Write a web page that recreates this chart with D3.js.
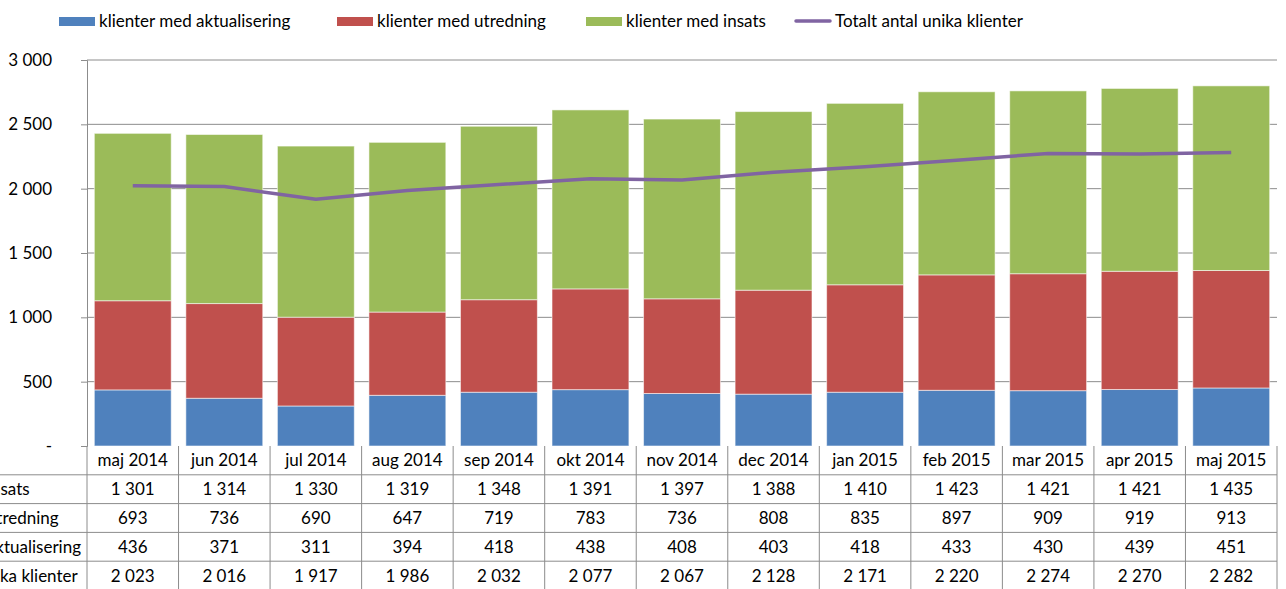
<!DOCTYPE html>
<html>
<head>
<meta charset="utf-8">
<script src="https://cdn.jsdelivr.net/npm/d3@7"></script>
<style>
  body { margin: 0; background: #fff; }
  svg text { font-family: Lato, "Open Sans", sans-serif; fill: #000; }
</style>
</head>
<body>
<div id="chart"></div>
<script>
const months = ['maj 2014', 'jun 2014', 'jul 2014', 'aug 2014', 'sep 2014', 'okt 2014', 'nov 2014',
  'dec 2014', 'jan 2015', 'feb 2015', 'mar 2015', 'apr 2015', 'maj 2015'];
const aktualisering = [436, 371, 311, 394, 418, 438, 408, 403, 418, 433, 430, 439, 451];
const utredning = [693, 736, 690, 647, 719, 783, 736, 808, 835, 897, 909, 919, 913];
const insats = [1301, 1314, 1330, 1319, 1348, 1391, 1397, 1388, 1410, 1423, 1421, 1421, 1435];
const totalt = [2023, 2016, 1917, 1986, 2032, 2077, 2067, 2128, 2171, 2220, 2274, 2270, 2282];
const yTicks = [0, 500, 1000, 1500, 2000, 2500, 3000];

const series = [
  { key: 'aktualisering', label: 'klienter med aktualisering', values: aktualisering, color: '#4F81BD' },
  { key: 'utredning', label: 'klienter med utredning', values: utredning, color: '#C0504D' },
  { key: 'insats', label: 'klienter med insats', values: insats, color: '#9BBB59' }
];
const lineLabel = 'Totalt antal unika klienter';
const lineColor = '#8064A2';

const width = 1286, height = 589;
const margin = { top: 60, right: 9, left: 87 };
const plotBottom = 446;
const rowH = 28.8;
const fs = 17;

const fmt = v => v === 0 ? '-' : d3.format(',')(v).replace(/,/g, ' ');

const svg = d3.select('#chart').append('svg')
  .attr('width', width)
  .attr('height', height);

const x = d3.scaleBand()
  .domain(months)
  .range([margin.left, width - margin.right])
  .paddingInner(0.16)
  .paddingOuter(0.08);

const xCol = d3.scaleBand()
  .domain(months)
  .range([margin.left, width - margin.right]);

const y = d3.scaleLinear()
  .domain([0, 3000])
  .range([plotBottom, margin.top]);

// gridlines
svg.append('g')
  .selectAll('line')
  .data(yTicks.slice(1))
  .join('line')
    .attr('x1', margin.left)
    .attr('x2', width - margin.right)
    .attr('y1', d => y(d))
    .attr('y2', d => y(d))
    .attr('stroke', '#8c8c8c')
    .attr('stroke-width', 1);

// y axis
const yAxis = svg.append('g')
  .attr('transform', `translate(${margin.left},0)`)
  .call(d3.axisLeft(y).tickValues(yTicks).tickSize(6).tickPadding(29).tickFormat(fmt));
yAxis.select('.domain').attr('stroke', '#8c8c8c');
yAxis.selectAll('.tick line').attr('stroke', '#8c8c8c');
yAxis.selectAll('.tick text').attr('font-size', fs).attr('font-family', 'Lato, "Open Sans", sans-serif');

// stacked bars
const stackData = months.map((m, i) => {
  const row = { month: m };
  series.forEach(s => { row[s.key] = s.values[i]; });
  return row;
});
const stacked = d3.stack().keys(series.map(s => s.key))(stackData);

svg.append('g')
  .selectAll('g')
  .data(stacked)
  .join('g')
    .attr('fill', (d, i) => series[i].color)
  .selectAll('rect')
  .data(d => d)
  .join('rect')
    .attr('x', d => x(d.data.month))
    .attr('width', x.bandwidth())
    .attr('y', d => y(d[1]))
    .attr('height', d => y(d[0]) - y(d[1]))
    .attr('stroke', 'rgba(255,255,255,0.55)')
    .attr('stroke-width', 1);

// total line
svg.append('path')
  .datum(totalt)
  .attr('fill', 'none')
  .attr('stroke', lineColor)
  .attr('stroke-width', 3.5)
  .attr('stroke-linejoin', 'round')
  .attr('d', d3.line()
    .x((d, i) => xCol(months[i]) + xCol.bandwidth() / 2)
    .y(d => y(d)));

// data table
const table = svg.append('g');
const rows = [
  { label: 'klienter med insats', values: insats },
  { label: 'klienter med utredning', values: utredning },
  { label: 'klienter med aktualisering', values: aktualisering },
  { label: lineLabel, values: totalt }
];
const tableBottom = plotBottom + rowH * (rows.length + 1);
const gridColor = '#8c8c8c';

// horizontal lines
table.selectAll('line.h')
  .data(d3.range(1, rows.length + 2))
  .join('line')
    .attr('class', 'h')
    .attr('x1', 0)
    .attr('x2', width - margin.right)
    .attr('y1', d => plotBottom + d * rowH)
    .attr('y2', d => plotBottom + d * rowH)
    .attr('stroke', gridColor);

// vertical lines
table.selectAll('line.v')
  .data(months.concat(['end']))
  .join('line')
    .attr('class', 'v')
    .attr('x1', d => d === 'end' ? width - margin.right : xCol(d))
    .attr('x2', d => d === 'end' ? width - margin.right : xCol(d))
    .attr('y1', plotBottom)
    .attr('y2', tableBottom)
    .attr('stroke', gridColor);

// header
table.selectAll('text.head')
  .data(months)
  .join('text')
    .attr('class', 'head')
    .attr('x', d => xCol(d) + xCol.bandwidth() / 2)
    .attr('y', plotBottom + rowH / 2)
    .attr('dy', '0.35em')
    .attr('text-anchor', 'middle')
    .attr('font-size', fs)
    .text(d => d);

rows.forEach((r, ri) => {
  const cy = plotBottom + rowH * (ri + 1) + rowH / 2;
  table.selectAll(null)
    .data(r.values)
    .join('text')
      .attr('x', (d, i) => xCol(months[i]) + xCol.bandwidth() / 2)
      .attr('y', cy)
      .attr('dy', '0.35em')
      .attr('text-anchor', 'middle')
      .attr('font-size', fs)
      .text(d => fmt(d));
});

// row labels, left aligned and cut off by the page edge as in the original
const labels = table.append('g').selectAll('text')
  .data(rows)
  .join('text')
    .attr('y', (d, i) => plotBottom + rowH * (i + 1) + rowH / 2)
    .attr('dy', '0.35em')
    .attr('font-size', fs)
    .text(d => d.label);
const longest = d3.max(labels.nodes(), n => n.getComputedTextLength());
labels.attr('x', 81 - longest);

// legend
const legendItems = series.map(s => ({ label: s.label, color: s.color, type: 'rect' }))
  .concat([{ label: lineLabel, color: lineColor, type: 'line' }]);
const legendX = [59, 337, 586, 795];
const legend = svg.append('g');
legendItems.forEach((d, i) => {
  const g = legend.append('g').attr('transform', `translate(${legendX[i]},21)`);
  if (d.type === 'rect') {
    g.append('rect').attr('x', 0).attr('y', -4).attr('width', 36).attr('height', 9).attr('fill', d.color);
  } else {
    g.append('line').attr('x1', 1).attr('x2', 35).attr('y1', 0).attr('y2', 0)
      .attr('stroke', d.color).attr('stroke-width', 3.5).attr('stroke-linecap', 'round');
  }
  g.append('text').attr('x', 40).attr('dy', '0.35em').attr('font-size', fs).text(d.label);
});
</script>
</body>
</html>
